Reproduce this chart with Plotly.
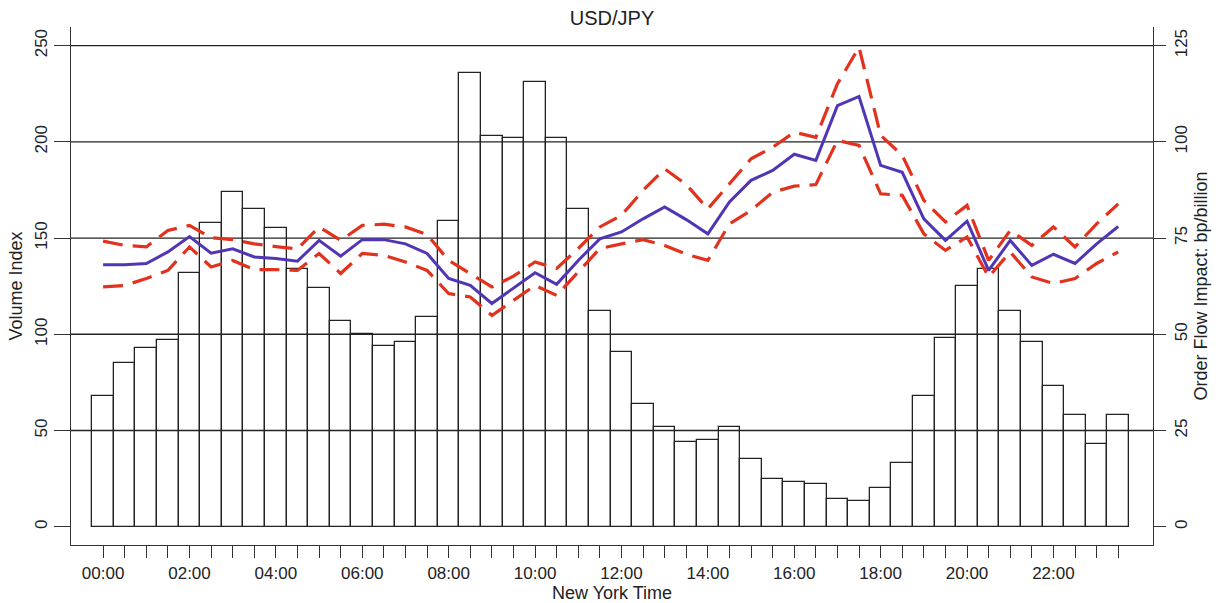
import plotly.graph_objects as go

# Half-hour slots, New York time
slots = [
    "00:00", "00:30", "01:00", "01:30", "02:00", "02:30", "03:00", "03:30",
    "04:00", "04:30", "05:00", "05:30", "06:00", "06:30", "07:00", "07:30",
    "08:00", "08:30", "09:00", "09:30", "10:00", "10:30", "11:00", "11:30",
    "12:00", "12:30", "13:00", "13:30", "14:00", "14:30", "15:00", "15:30",
    "16:00", "16:30", "17:00", "17:30", "18:00", "18:30", "19:00", "19:30",
    "20:00", "20:30", "21:00", "21:30", "22:00", "22:30", "23:00", "23:30",
]

# Trading volume index per slot (left axis)
volume_index = [
    68, 85, 93, 97, 132, 158, 174, 165, 155, 134, 124, 107,
    100, 94, 96, 109, 159, 236, 203, 202, 231, 202, 165, 112,
    91, 64, 52, 44, 45, 52, 35, 25, 23, 22, 14.5, 13.5,
    20, 33, 68, 98, 125, 134, 112, 96, 73, 58, 43, 58,
]

# Order flow price impact, bp per billion (right axis)
impact = [
    68.1, 68.1, 68.4, 71.4, 75.4, 71.1, 72.2, 70.1, 69.7, 69.0, 74.4, 70.3,
    74.6, 74.6, 73.5, 71.0, 64.5, 62.7, 58.0, 61.9, 66.0, 63.0, 69.2, 74.8,
    76.6, 80.0, 83.1, 79.8, 76.1, 84.4, 90.0, 92.6, 96.8, 95.2, 109.4, 111.8,
    93.9, 92.1, 80.0, 74.4, 79.4, 66.6, 74.4, 67.9, 70.8, 68.4, 73.5, 78.0,
]
impact_upper = [
    74.2, 73.1, 72.7, 77.0, 78.3, 75.1, 74.6, 73.5, 72.8, 72.2, 77.9, 74.4,
    78.3, 78.6, 77.9, 75.9, 69.2, 65.8, 62.3, 65.1, 68.8, 67.1, 72.3, 77.9,
    80.9, 87.4, 93.0, 88.9, 82.6, 89.1, 95.6, 98.6, 102.5, 101.2, 115.1, 124.6,
    101.7, 96.5, 84.8, 79.2, 83.5, 69.2, 77.0, 73.1, 77.9, 72.7, 78.7, 83.9,
]
impact_lower = [
    62.3, 62.7, 64.5, 66.6, 72.7, 67.5, 69.2, 66.8, 66.8, 66.6, 71.0, 65.8,
    71.0, 70.5, 68.8, 66.6, 60.6, 59.7, 54.9, 58.8, 62.7, 60.1, 66.2, 72.3,
    73.5, 74.6, 73.1, 70.8, 69.2, 78.7, 82.2, 86.9, 88.5, 88.9, 100.4, 99.1,
    86.5, 86.1, 76.1, 71.8, 75.3, 64.9, 71.4, 64.9, 63.2, 64.5, 68.4, 71.4,
]

left_ticks = [0, 50, 100, 150, 200, 250]
right_ticks = [0, 25, 50, 75, 100, 125]
slot_labels = [s if s.endswith(":00") and int(s[:2]) % 2 == 0 else "" for s in slots]

FONT = "Liberation Sans, Arial, sans-serif"
INK = "#222222"
AXIS = "#333333"

fig = go.Figure()

fig.add_trace(go.Bar(
    x=slots, y=volume_index, width=1.0,
    marker=dict(color="rgba(255,255,255,0)", line=dict(color=INK, width=1.3)),
    yaxis="y", showlegend=False,
))

band_line = dict(color="#e2321d", width=3.2, dash="20px,10px")
fig.add_trace(go.Scatter(x=slots, y=impact_upper, mode="lines", yaxis="y2",
                         line=band_line, showlegend=False))
fig.add_trace(go.Scatter(x=slots, y=impact_lower, mode="lines", yaxis="y2",
                         line=band_line, showlegend=False))
fig.add_trace(go.Scatter(x=slots, y=impact, mode="lines", yaxis="y2",
                         line=dict(color="#5035b5", width=3), showlegend=False))

# Horizontal reference lines at the labelled volume levels
for v in left_ticks[1:]:
    fig.add_shape(type="line", xref="paper", x0=0, x1=1, yref="y", y0=v, y1=v,
                  line=dict(color=INK, width=1.4), layer="below")

tick_font = dict(family=FONT, size=17, color=INK)
title_font = dict(family=FONT, size=18, color=INK)

fig.update_layout(
    width=1220, height=603,
    margin=dict(l=71, r=67, t=27, b=58, autoexpand=False),
    paper_bgcolor="white", plot_bgcolor="white",
    bargap=0,
    title=dict(text="USD/JPY", x=0.5, xref="paper", xanchor="center",
               y=1 - 18 / 603, yanchor="middle",
               font=dict(family=FONT, size=20, color=INK)),
    xaxis=dict(
        type="category", categoryorder="array", categoryarray=slots,
        range=[-1.486, 48.61],
        tickmode="array", tickvals=slots, ticktext=slot_labels,
        ticks="outside", ticklen=12, tickwidth=1.4, tickcolor=AXIS,
        showline=True, linecolor=AXIS, linewidth=1.4,
        showgrid=False, zeroline=False, automargin=False,
        tickfont=tick_font,
        title=dict(text="New York Time", font=title_font, standoff=2),
    ),
    yaxis=dict(
        range=[-9.5, 259.7],
        tickmode="array", tickvals=left_ticks,
        ticks="outside", ticklen=16, tickwidth=1.4, tickcolor=AXIS,
        tickangle=-90, tickfont=tick_font,
        showline=True, linecolor=AXIS, linewidth=1.4,
        showgrid=False, zeroline=False, automargin=False,
        title=dict(text="Volume Index", font=title_font, standoff=4),
    ),
    yaxis2=dict(
        overlaying="y", side="right",
        range=[-4.75, 129.85],
        tickmode="array", tickvals=right_ticks,
        ticks="outside", ticklen=12, tickwidth=1.4, tickcolor=AXIS,
        tickangle=-90, tickfont=tick_font,
        showline=True, linecolor=AXIS, linewidth=1.4,
        showgrid=False, zeroline=False, automargin=False,
        title=dict(text="Order Flow Impact: bp/billion", font=title_font, standoff=4),
    ),
)

fig.write_html("out.html")
